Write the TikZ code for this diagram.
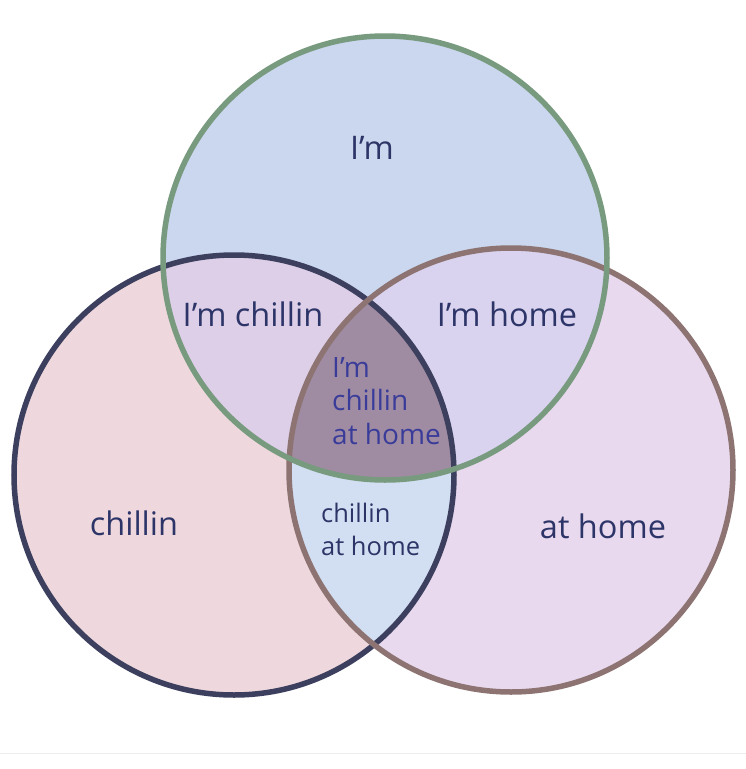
\documentclass[tikz,border=0pt]{standalone}
\usepackage{fontspec}
\setmainfont{Open Sans}
\definecolor{topfill}{HTML}{CAD7EE}
\definecolor{leftfill}{HTML}{EED8DD}
\definecolor{rightfill}{HTML}{E8D9EE}
\definecolor{tlfill}{HTML}{DDCFE8}
\definecolor{trfill}{HTML}{D9D3EF}
\definecolor{lrfill}{HTML}{D2DEF1}
\definecolor{midfill}{HTML}{A08CA2}
\definecolor{greenline}{HTML}{789A7E}
\definecolor{navyline}{HTML}{3C3F5E}
\definecolor{brownline}{HTML}{8D7473}
\definecolor{txt}{HTML}{2D3568}
\definecolor{midtxt}{HTML}{3A3C9A}
\begin{document}
\begin{tikzpicture}[x=1pt,y=-1pt,
  ring/.style={line width=5.5pt},
  lab/.style={text=txt,font=\fontsize{32.5}{36}\selectfont,inner sep=0pt},
  midlab/.style={text=midtxt,font=\fontsize{28}{33.5}\selectfont,align=left,inner sep=0pt},
  lowlab/.style={text=txt,font=\fontsize{25.5}{33}\selectfont,align=left,inner sep=0pt}]
\useasboundingbox (0,0) rectangle (746,769);
\fill[white] (0,0) rectangle (746,769);
\draw[black!7,line width=1pt] (0,753) -- (746,753);
\coordinate (T) at (385,258);
\coordinate (L) at (234,475);
\coordinate (R) at (511,470);
% base fills
\fill[topfill] (T) circle[radius=222pt];
\fill[leftfill] (L) circle[radius=220pt];
\fill[rightfill] (R) circle[radius=222pt];
% pairwise overlaps
\begin{scope}
  \clip (T) circle[radius=222pt];
  \fill[tlfill] (L) circle[radius=220pt];
  \fill[trfill] (R) circle[radius=222pt];
\end{scope}
\begin{scope}
  \clip (L) circle[radius=220pt];
  \fill[lrfill] (R) circle[radius=222pt];
\end{scope}
\begin{scope}
  \clip (T) circle[radius=222pt];
  \clip (L) circle[radius=220pt];
  \fill[midfill] (R) circle[radius=222pt];
\end{scope}
% outlines
\draw[ring,navyline] (L) circle[radius=220pt];
\draw[ring,brownline] (R) circle[radius=222pt];
\draw[ring,greenline] (T) circle[radius=222pt];
% labels
\node[lab] (im) at (372,148) {I’m};
\node[lab] (imchillin) at (253,314) {I’m chillin};
\node[lab] (imhome) at (507,314) {I’m home};
\node[lab] (chillin) at (134,523) {chillin};
\node[lab] (athome) at (603,526) {at home};
\node[midlab,anchor=west] (all) at (332,401) {I’m\\chillin\\at home};
\node[lowlab,anchor=west] (chillinathome) at (321,529) {chillin\\at home};
\end{tikzpicture}
\end{document}
